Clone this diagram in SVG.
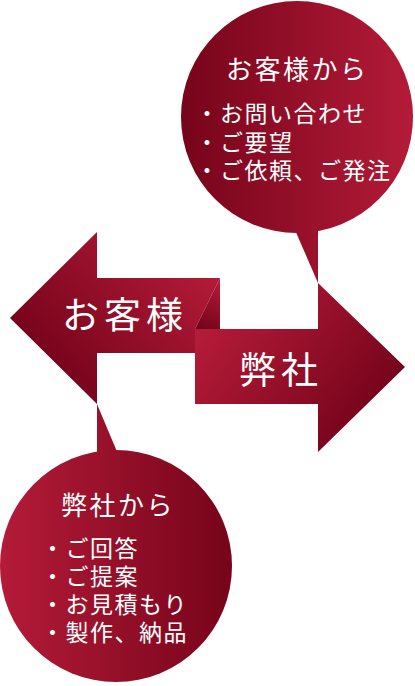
<svg xmlns="http://www.w3.org/2000/svg" width="415" height="686" viewBox="0 0 415 686">
  <defs>
    <linearGradient id="gTop" gradientUnits="userSpaceOnUse" x1="181" y1="0" x2="413" y2="0">
      <stop offset="0" stop-color="#76041a"/>
      <stop offset="1" stop-color="#b41b38"/>
    </linearGradient>
    <linearGradient id="gBot" gradientUnits="userSpaceOnUse" x1="0" y1="0" x2="232" y2="0">
      <stop offset="0" stop-color="#b41b38"/>
      <stop offset="1" stop-color="#76041a"/>
    </linearGradient>
    <linearGradient id="gLeft" gradientUnits="userSpaceOnUse" x1="70" y1="400" x2="215" y2="270">
      <stop offset="0" stop-color="#74031a"/>
      <stop offset="1" stop-color="#b41b38"/>
    </linearGradient>
    <linearGradient id="gRight" gradientUnits="userSpaceOnUse" x1="200" y1="335" x2="350" y2="450">
      <stop offset="0" stop-color="#b41b38"/>
      <stop offset="1" stop-color="#74031a"/>
    </linearGradient>
    <linearGradient id="gFold" gradientUnits="userSpaceOnUse" x1="200" y1="330" x2="222" y2="285">
      <stop offset="0" stop-color="#72031a"/>
      <stop offset="1" stop-color="#b01a36"/>
    </linearGradient>
  </defs>
  <style>
    text { font-family: "Noto Sans CJK JP", "Noto Sans", sans-serif; fill: #ffffff; }
    .title { font-size: 26px; letter-spacing: 2.5px; }
    .item { font-size: 23px; letter-spacing: 1.5px; }
    .big { font-size: 37px; letter-spacing: 5px; }
  </style>

  <g id="connectors">
    <g id="arrow-left">
      <polygon points="10,318 97,232 97,278 220,278 195,329 195,353 97,353 97,404" fill="url(#gLeft)"/>
      <polygon points="220,278 220,329 195,329" fill="url(#gFold)"/>
    </g>
    <g id="arrow-right">
      <polygon points="195,329 318,329 318,283 405,367 318,452 318,404 195,404" fill="url(#gRight)"/>
    </g>
  </g>

  <g id="node-okyakusama">
    <text class="big" x="62" y="329">お客様</text>
  </g>
  <g id="node-heisha">
    <text class="big" x="239" y="383.5">弊社</text>
  </g>

  <g id="bubble-top">
    <circle cx="297" cy="117" r="116" fill="url(#gTop)"/>
    <polygon points="295,230 318,230 318,283" fill="url(#gTop)"/>
    <text class="title" x="226" y="79">お客様から</text>
    <text class="item" x="195.5" y="121.7">・お問い合わせ</text>
    <text class="item" x="195.5" y="150.7">・ご要望</text>
    <text class="item" x="195.5" y="178.7">・ご依頼、ご発注</text>
  </g>

  <g id="bubble-bottom">
    <circle cx="116" cy="566" r="116" fill="url(#gBot)"/>
    <polygon points="97,404 97,454 118,454" fill="url(#gBot)"/>
    <text class="title" x="61" y="515">弊社から</text>
    <text class="item" x="41" y="556.7">・ご回答</text>
    <text class="item" x="41" y="585.2">・ご提案</text>
    <text class="item" x="41" y="613.2">・お見積もり</text>
    <text class="item" x="41" y="640.7">・製作、納品</text>
  </g>
</svg>
